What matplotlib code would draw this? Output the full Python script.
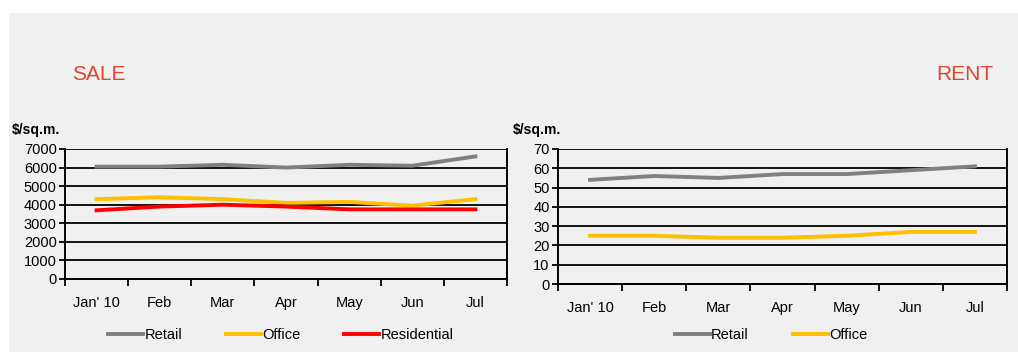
import matplotlib.pyplot as plt
import numpy as np
from matplotlib.patches import Rectangle

months = ["Jan' 10", "Feb", "Mar", "Apr", "May", "Jun", "Jul"]

# Продажа, $/кв.м.
sale_retail = [6050, 6050, 6150, 6000, 6150, 6100, 6600]
sale_office = [4300, 4400, 4300, 4100, 4150, 3950, 4300]
sale_resid = [3700, 3900, 4000, 3900, 3750, 3750, 3750]

# Аренда, $/кв.м.
rent_retail = [54, 56, 55, 57, 57, 59, 61]
rent_office = [25, 25, 24, 24, 25, 27, 27]

plt.rcParams["font.family"] = ["Liberation Sans", "DejaVu Sans"]

W, H = 1018, 352
fig = plt.figure(figsize=(W / 100, H / 100), dpi=100)
fig.patch.set_facecolor("white")
fig.patches.append(Rectangle((9 / W, 0), 1, 1 - 13 / H, transform=fig.transFigure,
                             facecolor="#f0f0f0", edgecolor="none", zorder=-10))


def px_axes(x0, y0, x1, y1):
    return fig.add_axes([x0 / W, 1 - y1 / H, (x1 - x0) / W, (y1 - y0) / H])


def style(ax, ymax, step):
    x = np.arange(len(months))
    ax.set_facecolor("none")
    ax.set_xlim(-0.5, len(months) - 0.5)
    ax.set_ylim(0, ymax)
    ax.set_yticks(np.arange(0, ymax + 1, step))
    ax.set_xticks(x)
    ax.set_xticklabels(months)
    ax.set_xticks(np.arange(-0.5, len(months)), minor=True)
    ax.tick_params(axis="x", which="major", length=0, pad=12, labelsize=10.5)
    ax.tick_params(axis="x", which="minor", length=5, width=1.3, direction="out")
    ax.tick_params(axis="y", length=4, width=1.3, labelsize=10.5, pad=2)
    ax.grid(True, axis="y", color="black", linewidth=1.3)
    ax.set_axisbelow(True)
    for s in ["left", "bottom", "right"]:
        ax.spines[s].set_linewidth(1.4)
    ax.spines["top"].set_visible(False)
    return x


# Продажа
ax1 = px_axes(65, 149, 507, 279)
x = style(ax1, 7000, 1000)
ax1.plot(x, sale_retail, color="#808080", linewidth=2.8, label="Retail")
ax1.plot(x, sale_office, color="#ffc000", linewidth=2.8, label="Office")
ax1.plot(x, sale_resid, color="#ff0000", linewidth=2.8, label="Residential")
ax1.legend(loc="center", bbox_to_anchor=(216 / 442, -56 / 130), ncol=3, frameon=False,
           handlelength=2.4, handletextpad=0.1, columnspacing=3.0, fontsize=10.5)

# Аренда
ax2 = px_axes(558, 149, 1007, 284)
x = style(ax2, 70, 10)
ax2.plot(x, rent_retail, color="#808080", linewidth=2.8, label="Retail")
ax2.plot(x, rent_office, color="#ffc000", linewidth=2.8, label="Office")
ax2.legend(loc="center", bbox_to_anchor=(213 / 449, -51 / 135), ncol=2, frameon=False,
           handlelength=2.4, handletextpad=0.1, columnspacing=3.0, fontsize=10.5)

# Подписи
fig.text(12 / W, 1 - 130 / H, "$/sq.m.", fontsize=10, fontweight="bold", va="center")
fig.text(513 / W, 1 - 130 / H, "$/sq.m.", fontsize=10, fontweight="bold", va="center")
fig.text(72 / W, 1 - 74 / H, "SALE", fontsize=15, color="#e0442c", va="center")
fig.text(993 / W, 1 - 74 / H, "RENT", fontsize=15, color="#e0442c", va="center", ha="right")

plt.savefig("out.png", dpi=100)
